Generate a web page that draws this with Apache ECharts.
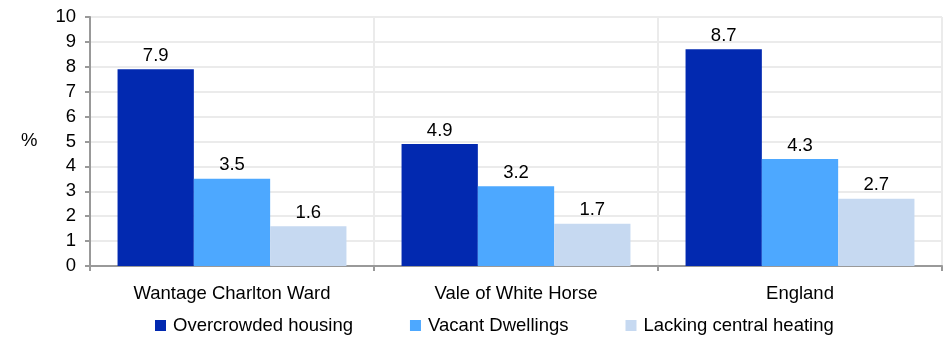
<!DOCTYPE html>
<html>
<head>
<meta charset="utf-8">
<script src="https://cdn.jsdelivr.net/npm/echarts@6/dist/echarts.min.js"></script>
<style>
  html, body { margin: 0; padding: 0; background: #fff; }
  #chart { width: 949px; height: 337px; }
</style>
</head>
<body>
<div id="chart"></div>
<script>
// Housing indicators by area (%)
const categories = ['Wantage Charlton Ward', 'Vale of White Horse', 'England'];
const overcrowded = [7.9, 4.9, 8.7];
const vacant = [3.5, 3.2, 4.3];
const noHeating = [1.6, 1.7, 2.7];
const seriesNames = ['Overcrowded housing', 'Vacant Dwellings', 'Lacking central heating'];
const colors = ['#0229B0', '#4DA8FF', '#C6D9F1'];

const font = 'Liberation Sans, Arial, sans-serif';
const fs = 18.5;
const chart = echarts.init(document.getElementById('chart'), null, { renderer: 'canvas' });

function bar(name, data, color) {
  return {
    name: name,
    type: 'bar',
    data: data,
    barGap: '0%',
    barCategoryGap: '19.4%',
    itemStyle: { color: color },
    label: {
      show: true,
      position: 'top',
      distance: 4,
      color: '#000',
      fontSize: fs,
      fontFamily: font
    }
  };
}

chart.setOption({
  animation: false,
  color: colors,
  grid: { left: 90, right: 7, top: 17, bottom: 71, containLabel: false },
  graphic: [{
    type: 'text',
    left: 21,
    top: 131,
    style: { text: '%', fontSize: fs, fontFamily: font, fill: '#000' }
  }],
  legend: {
    top: 311,
    left: 150,
    icon: 'rect',
    itemWidth: 11,
    itemHeight: 11,
    itemGap: 57,
    textStyle: { fontSize: fs, fontFamily: font, color: '#000', padding: [0, 0, 0, 2] },
    data: seriesNames
  },
  xAxis: {
    type: 'category',
    data: categories,
    boundaryGap: true,
    axisLine: { show: true, lineStyle: { color: '#999', width: 2 } },
    axisTick: { show: true, alignWithLabel: false, length: 5, lineStyle: { color: '#999', width: 2 } },
    axisLabel: { margin: 18, fontSize: fs, fontFamily: font, color: '#000' },
    splitLine: { show: true, lineStyle: { color: '#ebebeb', width: 2 } }
  },
  yAxis: {
    type: 'value',
    min: 0,
    max: 10,
    interval: 1,
    axisLine: { show: true, lineStyle: { color: '#999', width: 2 } },
    axisTick: { show: true, length: 5, lineStyle: { color: '#999', width: 2 } },
    axisLabel: { margin: 14, fontSize: fs, fontFamily: font, color: '#000' },
    splitLine: { show: true, lineStyle: { color: '#ebebeb', width: 2 } }
  },
  series: [
    bar(seriesNames[0], overcrowded, colors[0]),
    bar(seriesNames[1], vacant, colors[1]),
    bar(seriesNames[2], noHeating, colors[2])
  ]
});
</script>
</body>
</html>
